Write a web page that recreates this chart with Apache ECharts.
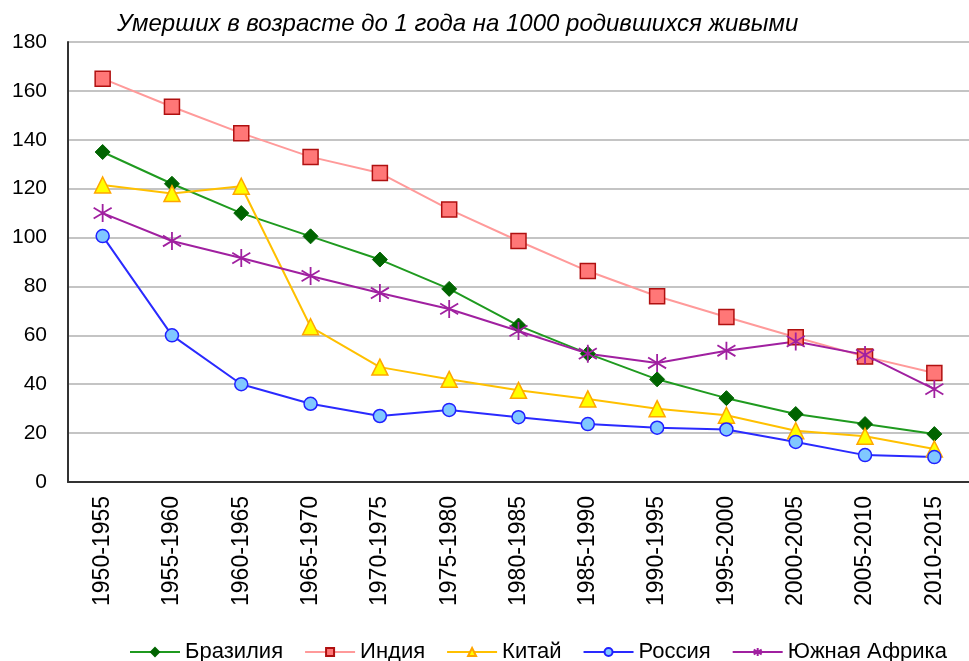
<!DOCTYPE html>
<html><head><meta charset="utf-8">
<script src="https://cdn.jsdelivr.net/npm/echarts@6/dist/echarts.min.js"></script>
<style>html,body{margin:0;padding:0;background:#fff}#c{width:969px;height:661px}</style>
</head><body><div id="c"></div>
<script>
var categories = ['1950-1955','1955-1960','1960-1965','1965-1970','1970-1975','1975-1980','1980-1985','1985-1990','1990-1995','1995-2000','2000-2005','2005-2010','2010-2015'];
var brazil = [135, 122, 110, 100.5, 91, 79, 64, 52.5, 42, 34.3, 27.8, 23.7, 19.6];
var india = [165, 153.5, 142.7, 133, 126.4, 111.5, 98.6, 86.3, 76, 67.5, 59.2, 51.3, 44.6];
var china = [121.5, 118, 121, 63.5, 47, 42, 37.5, 34, 30, 27.3, 21, 18.7, 13.5];
var russia = [100.6, 60, 40, 32, 27, 29.5, 26.5, 23.7, 22.2, 21.5, 16.4, 11, 10.2];
var southAfrica = [110, 98.6, 91.6, 84.3, 77.3, 70.8, 61.8, 52.5, 48.7, 53.7, 57.5, 52, 38];
var yTicks = [0, 20, 40, 60, 80, 100, 120, 140, 160, 180];

var star = 'path://M0,-1L0,1M-0.85,-0.6L0.85,0.6M-0.85,0.6L0.85,-0.6';
function ser(name, data, lineColor, symbol, size, fill, border, bw) {
  return {
    name: name, type: 'line', data: data, symbol: symbol, symbolSize: size,
    lineStyle: {color: lineColor, width: 2},
    itemStyle: {color: fill, borderColor: border, borderWidth: bw},
    color: lineColor,
    animation: false
  };
}
var chart = echarts.init(document.getElementById('c'));
chart.setOption({
  animation: false,
  title: {
    text: 'Умерших в возрасте до 1 года на 1000 родившихся живыми',
    left: 112, top: 7,
    textStyle: {fontFamily: 'Liberation Sans', fontStyle: 'italic', fontWeight: 'normal', fontSize: 24, color: '#000'}
  },
  grid: {left: 68, right: -10, top: 42, bottom: 179},
  legend: {
    top: 636, left: 124, itemWidth: 50, itemHeight: 10, itemGap: 21,
    textStyle: {fontFamily: 'Liberation Sans', fontSize: 22, color: '#000'},
    data: ['Бразилия', 'Индия', 'Китай', 'Россия', 'Южная Африка']
  },
  xAxis: {
    type: 'category', data: categories, boundaryGap: true,
    axisLine: {lineStyle: {color: '#333', width: 2}},
    axisTick: {show: false},
    axisLabel: {rotate: 90, fontFamily: 'Liberation Sans', fontSize: 23, color: '#000', margin: 14}
  },
  yAxis: {
    type: 'value', min: yTicks[0], max: yTicks[yTicks.length - 1], interval: 20,
    axisLine: {show: true, lineStyle: {color: '#333', width: 2}},
    axisTick: {show: false},
    splitLine: {lineStyle: {color: '#c4c4c4', width: 2}},
    axisLabel: {fontFamily: 'Liberation Sans', fontSize: 21, color: '#000', margin: 21}
  },
  series: [
    ser('Бразилия', brazil, '#1f9a1f', 'diamond', 15, '#006400', '#006400', 1),
    ser('Индия', india, '#ff9a9a', 'rect', 15, '#ff7777', '#b01010', 1.5),
    ser('Китай', china, '#ffc000', 'triangle', 16, '#ffff00', '#ffa500', 1.5),
    ser('Россия', russia, '#2a2aff', 'circle', 13, '#80c8ff', '#2020ff', 1.5),
    ser('Южная Африка', southAfrica, '#a020a0', star, 18, '#a020a0', '#a020a0', 1.8)
  ]
});
</script></body></html>
